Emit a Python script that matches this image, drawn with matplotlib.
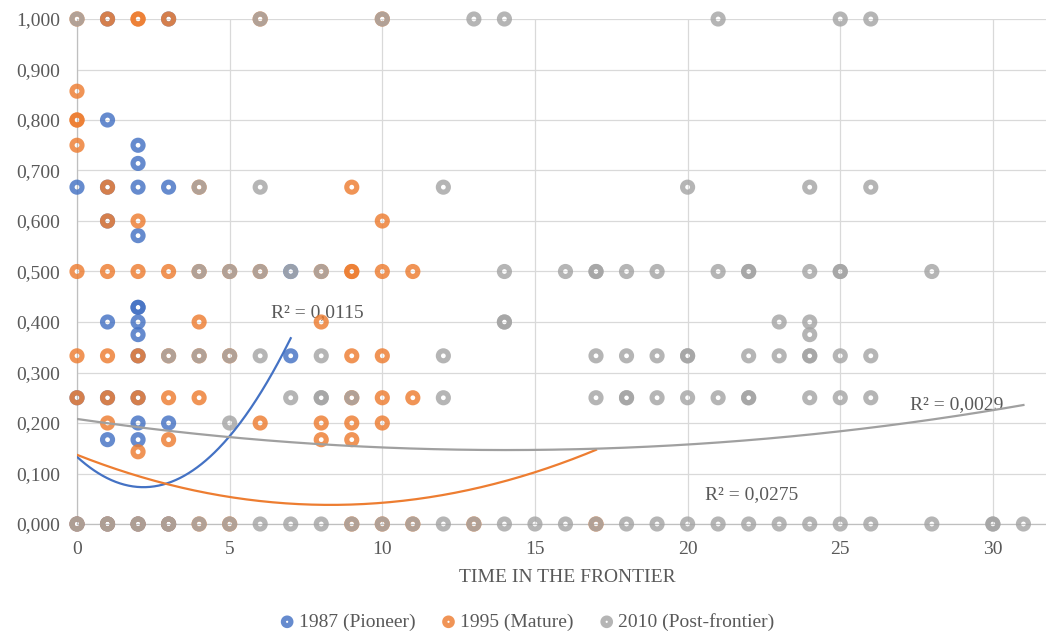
import numpy as np
import matplotlib
matplotlib.use("Agg")
import matplotlib.pyplot as plt
from matplotlib.ticker import FuncFormatter, MultipleLocator

plt.rcParams['font.family'] = ['Liberation Serif', 'DejaVu Serif']

series_names = ['1987 (Pioneer)', '1995 (Mature)', '2010 (Post-frontier)']
colors = ['#4472C4', '#ED7D31', '#A5A5A5']

# points, grouped by y level (one x list per level)
pioneer_levels = [1.0, 0.8, 0.75, 0.714, 0.667, 0.6, 0.571, 0.5, 0.429, 0.4,
                  0.375, 0.333, 0.25, 0.2, 0.167, 0.0]
pioneer_x = [[1, 3], [1], [2], [2], [0, 1, 2, 3], [1], [2], [7], [2, 2], [1, 2],
             [2], [2, 7], [0, 1, 2], [2, 3], [1, 2], [0, 1, 2, 3]]

mature_levels = [1.0, 0.857, 0.8, 0.75, 0.667, 0.6, 0.5, 0.4, 0.333, 0.25,
                 0.2, 0.167, 0.143, 0.0]
mature_x = [[0, 1, 2, 2, 3, 6, 10], [0], [0, 0], [0], [1, 4, 9], [1, 2, 10],
            [0, 1, 2, 3, 4, 5, 6, 8, 9, 9, 10, 11], [4, 8],
            [0, 1, 2, 3, 4, 5, 9, 10], [0, 1, 2, 3, 4, 9, 10, 11],
            [1, 6, 8, 9, 10], [3, 8, 9], [2], [0, 1, 2, 3, 4, 5, 9, 10, 11, 13, 17]]

post_levels = [1.0, 0.667, 0.5, 0.4, 0.375, 0.333, 0.25, 0.2, 0.0]
post_x = [[0, 6, 10, 13, 14, 21, 25, 26],
          [4, 6, 12, 20, 24, 26],
          [4, 5, 6, 7, 8, 14, 16, 17, 17, 18, 19, 21, 22, 22, 24, 25, 25, 28],
          [14, 14, 23, 24],
          [24],
          [3, 4, 5, 6, 8, 12, 17, 18, 19, 20, 20, 22, 23, 24, 24, 25, 26],
          [7, 8, 8, 9, 12, 17, 18, 18, 19, 20, 21, 22, 22, 24, 25, 26],
          [5],
          [0, 1, 2, 3, 4, 5, 6, 7, 8, 9, 10, 11, 12, 13, 14, 15, 16, 17, 18, 19,
           20, 21, 22, 23, 24, 25, 26, 28, 30, 30, 31]]

# polynomial (order 2) trend lines: a, b, c and x range
pioneer_trend = [0.01268, -0.0552, 0.133]
mature_trend = [0.00144, -0.0239, 0.137]
post_trend = [0.000311, -0.00875, 0.208]
trend_ranges = [(0, 7), (0, 17), (0, 31)]
r2_labels = ['R² = 0,0115', 'R² = 0,0275', 'R² = 0,0029']
r2_pos = [(7.86, 0.418), (22.1, 0.059), (28.8, 0.236)]


def expand(levels, xs):
    px, py = [], []
    for lv, row in zip(levels, xs):
        px += row
        py += [lv] * len(row)
    return np.array(px), np.array(py)


fig = plt.figure(figsize=(10.46, 6.34), dpi=100)
ax = fig.add_axes([77 / 1046, 1 - 524 / 634, 1 - 77 / 1046, (524 - 19) / 634])

text_col = '#595959'
data = [(pioneer_levels, pioneer_x), (mature_levels, mature_x), (post_levels, post_x)]
for i, (lv, xs) in enumerate(data):
    px, py = expand(lv, xs)
    ax.scatter(px, py, s=52, facecolors='none', edgecolors=colors[i],
               linewidths=3.7, alpha=0.82, zorder=3 + i, clip_on=False,
               label=series_names[i])

trend_colors = ['#4472C4', '#ED7D31', '#A0A0A0']
for i, coef in enumerate([pioneer_trend, mature_trend, post_trend]):
    xx = np.linspace(trend_ranges[i][0], trend_ranges[i][1], 200)
    ax.plot(xx, np.polyval(coef, xx), color=trend_colors[i], lw=1.6, zorder=7)
    ax.text(r2_pos[i][0], r2_pos[i][1], r2_labels[i], fontsize=14, color=text_col,
            ha='center', va='center', zorder=2)

ax.set_xlim(0, (1046 - 77) / 30.53)
ax.set_ylim(0, 1)
ax.xaxis.set_major_locator(MultipleLocator(5))
ax.yaxis.set_major_locator(MultipleLocator(0.1))
ax.yaxis.set_major_formatter(FuncFormatter(lambda v, p: f"{v:.3f}".replace('.', ',')))
ax.grid(True, color='#D9D9D9', lw=0.9, zorder=0)
ax.set_axisbelow(True)
for s in ['top', 'right']:
    ax.spines[s].set_visible(False)
for s in ['left', 'bottom']:
    ax.spines[s].set_color('#BFBFBF')
    ax.spines[s].set_linewidth(0.9)
ax.tick_params(axis='both', length=0, labelsize=14, colors=text_col)
ax.tick_params(axis='x', pad=12)
ax.tick_params(axis='y', pad=12)

fig.text(567 / 1046, 1 - 577 / 634, 'TIME IN THE FRONTIER', fontsize=14,
         color=text_col, ha='center', va='center')

handles, labels = ax.get_legend_handles_labels()
leg = fig.legend(handles, labels, loc='center', bbox_to_anchor=(527 / 1046, 1 - 622 / 634),
                 ncol=3, frameon=False, fontsize=14, handlelength=0.8,
                 handletextpad=0.2, columnspacing=1.3, markerscale=0.75)
for t in leg.get_texts():
    t.set_color(text_col)

fig.savefig('out.png', dpi=100)
